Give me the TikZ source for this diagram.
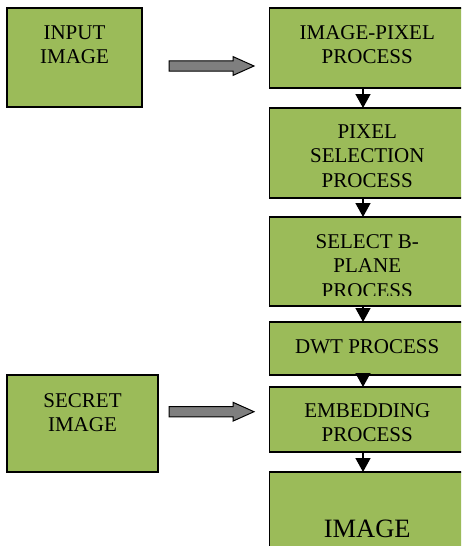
\documentclass[tikz,border=0pt]{standalone}
\usepackage{fontspec}
\setmainfont{Liberation Serif}
\usetikzlibrary{calc,arrows.meta}
\definecolor{boxgreen}{HTML}{9BBB59}
\definecolor{arrgray}{HTML}{7F7F7F}
\newcommand\stacklines[1]{\vtop{\halign{\hfil##\hfil\cr#1\crcr}}}
\tikzset{
  box/.style={draw=black, line width=1.6pt, fill=boxgreen, anchor=north west, inner sep=0pt, outer sep=0pt},
  txt/.style={inner sep=0pt, anchor=base, font=\fontsize{21}{24.5}\selectfont},
  bigtxt/.style={inner sep=0pt, anchor=base, font=\fontsize{26.5}{30}\selectfont},
  flow/.style={draw=black, line width=1.5pt, -{Triangle[width=15pt,length=14pt]}},
  blockarr/.style={draw=black, line width=1pt, fill=arrgray, line join=miter}
}
\begin{document}
\begin{tikzpicture}[x=1pt,y=1pt]
\useasboundingbox (0,0) rectangle (461,-546);
\clip (0,0) rectangle (461,-546);
% boxes
\node[box, minimum width=135pt, minimum height=99pt] (in) at (7,-8) {};
\node[box, minimum width=151pt, minimum height=97pt] (sec) at (7,-375) {};
\node[box, minimum width=195.5pt, minimum height=80pt] (b1) at (269.5,-8) {};
\node[box, minimum width=195.5pt, minimum height=90pt] (b2) at (269.5,-108) {};
\node[box, minimum width=195.5pt, minimum height=89pt] (b3) at (269.5,-217) {};
\node[box, minimum width=195.5pt, minimum height=53pt] (b4) at (269.5,-322) {};
\node[box, minimum width=195.5pt, minimum height=65pt] (b5) at (269.5,-387) {};
\node[box, minimum width=195.5pt, minimum height=90pt] (b6) at (269.5,-472) {};
% texts
\node[txt] (tin) at ($(in.north)+(0,-31)$) {\stacklines{INPUT\cr IMAGE}};
\node[txt] (tsec) at ($(sec.north)+(0,-32)$) {\stacklines{SECRET\cr IMAGE}};
\node[txt] (t1) at ($(b1.north)+(0,-31)$) {\stacklines{IMAGE-PIXEL\cr PROCESS}};
\node[txt] (t2) at ($(b2.north)+(0,-30)$) {\stacklines{PIXEL\cr SELECTION\cr PROCESS}};
\begin{scope}
\clip (269.5,-217) rectangle (465,-295.5);
\node[txt] (t3) at ($(b3.north)+(0,-31)$) {\stacklines{SELECT B-\cr PLANE\cr PROCESS}};
\end{scope}
\node[txt] (t4) at ($(b4.north)+(0,-31)$) {\stacklines{DWT PROCESS}};
\node[txt] (t5) at ($(b5.north)+(0,-30)$) {\stacklines{EMBEDDING\cr PROCESS}};
\node[bigtxt] (t6) at ($(b6.north)+(0,-65)$) {IMAGE};
% flow arrows
\coordinate (ax) at (363,0);
\draw[flow] (b1.south -| ax) -- (b2.north -| ax);
\draw[flow] (b2.south -| ax) -- (b3.north -| ax);
\draw[flow] (b3.south -| ax) -- (b4.north -| ax);
\draw[flow] (b4.south -| ax) -- (b5.north -| ax);
\draw[flow] (b5.south -| ax) -- (b6.north -| ax);
% block arrows
\coordinate (a1) at ($(in.east |- b1.west)+(0,0)$);
\coordinate (a1s) at (169,-66);
\coordinate (a2s) at (169,-411.7);
\draw[blockarr] (a1s) ++(0,5.2) -- ++(64,0) -- ++(0,4.2) -- ++(21,-9.4) -- ++(-21,-9.4) -- ++(0,4.2) -- ++(-64,0) -- cycle;
\draw[blockarr] (a2s) ++(0,5.2) -- ++(64,0) -- ++(0,4.2) -- ++(21,-9.4) -- ++(-21,-9.4) -- ++(0,4.2) -- ++(-64,0) -- cycle;
\end{tikzpicture}
\end{document}
